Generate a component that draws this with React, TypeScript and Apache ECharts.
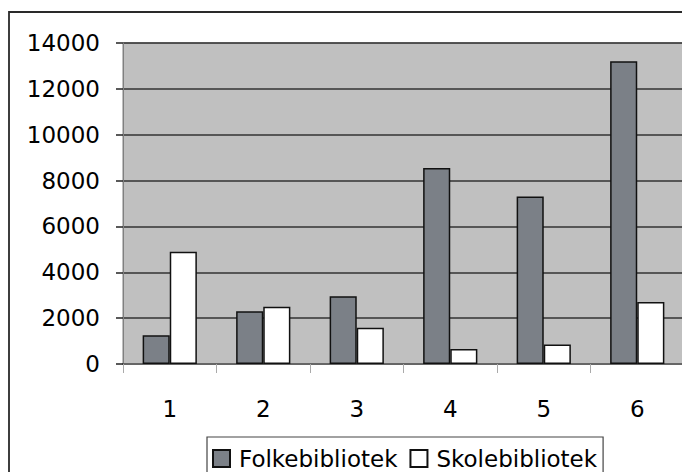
import React, { useEffect, useRef } from "react";
import * as echarts from "echarts";

const categories = ["1", "2", "3", "4", "5", "6"];
const folkebibliotek = [1250, 2300, 2950, 8550, 7300, 13200];
const skolebibliotek = [4900, 2500, 1580, 650, 850, 2700];
const seriesNames = ["Folkebibliotek", "Skolebibliotek"];

const FONT = "DejaVu Sans";

export default function App() {
  const ref = useRef<HTMLDivElement>(null);
  useEffect(() => {
    if (!ref.current) return;
    const chart = echarts.init(ref.current, null, { renderer: "svg" });
    chart.setOption({
      animation: false,
      backgroundColor: "#ffffff",
      graphic: [
        {
          type: "rect",
          shape: { x: 9, y: 12, width: 800, height: 800 },
          style: { fill: "none", stroke: "#2a2a2a", lineWidth: 1.8 },
          silent: true,
          z: 100,
        },
      ],
      grid: {
        left: 123,
        top: 43,
        width: 561,
        height: 321,
        show: true,
        backgroundColor: "#c0c0c0",
        borderColor: "#808080",
        borderWidth: 1,
      },
      legend: {
        left: 207,
        top: 437,
        data: seriesNames,
        itemWidth: 17,
        itemHeight: 17,
        itemGap: 12,
        padding: [10, 6, 6, 5],
        borderColor: "#444",
        borderWidth: 1.2,
        textStyle: {
          fontFamily: FONT,
          fontSize: 23,
          color: "#000",
          padding: [0, 0, 0, 4],
        },
        icon: "rect",
      },
      xAxis: {
        type: "category",
        data: categories,
        axisLine: { show: true, lineStyle: { color: "#666", width: 2 } },
        axisTick: { show: true, length: 9, lineStyle: { color: "#aaa", width: 1 } },
        axisLabel: { margin: 33, fontFamily: FONT, fontSize: 23, color: "#000" },
        splitLine: { show: false },
      },
      yAxis: {
        type: "value",
        min: 0,
        max: 14000,
        interval: 2000,
        axisLine: { show: true, lineStyle: { color: "#808080", width: 1 } },
        axisTick: { show: true, length: 7, lineStyle: { color: "#222", width: 1.5 } },
        axisLabel: {
          margin: 23,
          fontFamily: FONT,
          fontSize: 23,
          color: "#000",
          formatter: (v: number) => String(v),
        },
        splitLine: { show: true, lineStyle: { color: "#333", width: 1.5 } },
      },
      series: [
        {
          name: seriesNames[0],
          type: "bar",
          data: folkebibliotek,
          barGap: "0%",
          barCategoryGap: "42%",
          itemStyle: { color: "#7b8087", borderColor: "#111", borderWidth: 1.5 },
        },
        {
          name: seriesNames[1],
          type: "bar",
          data: skolebibliotek,
          barGap: "0%",
          barCategoryGap: "42%",
          itemStyle: { color: "#ffffff", borderColor: "#111", borderWidth: 1.5 },
        },
      ],
    });
    return () => chart.dispose();
  }, []);
  return (
    <div
      ref={ref}
      style={{ position: "fixed", left: 0, top: 0, width: 700, height: 490 }}
    />
  );
}
